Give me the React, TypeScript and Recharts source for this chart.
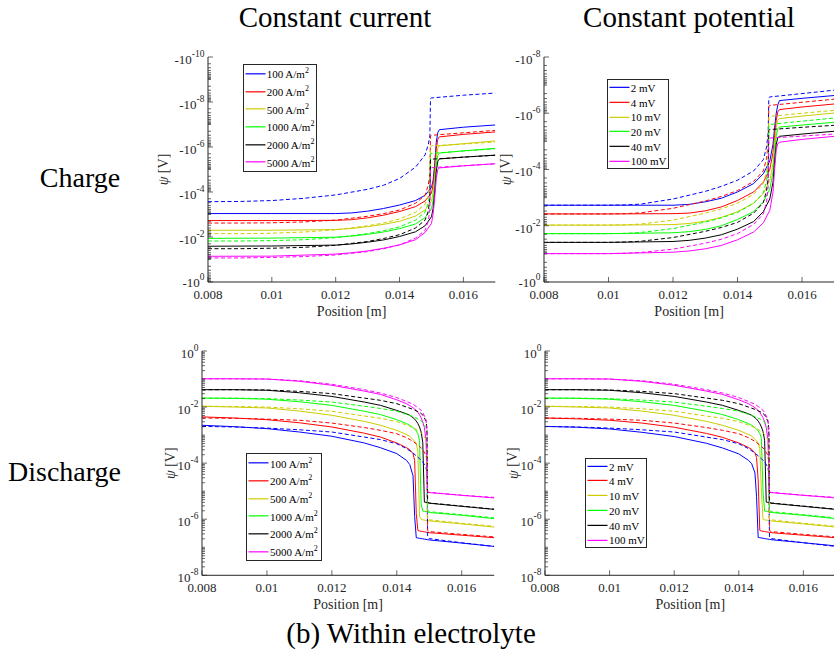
import React from 'react';
import { LineChart, Line, XAxis, YAxis, Legend } from 'recharts';

const FONT = "'Liberation Serif', 'Times New Roman', 'DejaVu Serif', serif";
const AXIS = '#262626';

const seriesColors = ['#0000FF', '#FF0000', '#CCCC00', '#00FF00', '#000000', '#FF00FF'];
const currentLabels = ['100 A/m^2', '200 A/m^2', '500 A/m^2', '1000 A/m^2', '2000 A/m^2', '5000 A/m^2'];
const potentialLabels = ['2 mV', '4 mV', '10 mV', '20 mV', '40 mV', '100 mV'];
const xTicks = [0.008, 0.01, 0.012, 0.014, 0.016];
const xTickLabels = ['0.008', '0.01', '0.012', '0.014', '0.016'];
const chargeCurrentExps = [-10, -8, -6, -4, -2, 0];
const chargePotentialExps = [-8, -6, -4, -2, 0];
const dischargeExps = [-8, -6, -4, -2, 0];

const ccChSolidX = [0.008, 0.010, 0.012, 0.0125, 0.013, 0.0135, 0.014, 0.0145, 0.0148, 0.015, 0.01505, 0.0151, 0.01515, 0.0152, 0.01525, 0.016, 0.017];
const ccCh100 = [9.1e-4, 9.1e-4, 9.1e-4, 8.5e-4, 7.1e-4, 5.4e-4, 3.8e-4, 2.4e-4, 1.41e-4, 6.3e-5, 3.16e-5, 6.3e-6, 6.3e-7, 2.24e-7, 1.7e-7, 1.32e-7, 1.05e-7];
const ccCh200 = [1.86e-3, 1.86e-3, 1.82e-3, 1.7e-3, 1.41e-3, 1.07e-3, 7.4e-4, 4.47e-4, 2.51e-4, 1.12e-4, 5.0e-5, 1.0e-5, 1.26e-6, 4.47e-7, 3.55e-7, 2.75e-7, 2.14e-7];
const ccCh500 = [5.0e-3, 5.0e-3, 4.68e-3, 4.17e-3, 3.47e-3, 2.75e-3, 2.0e-3, 1.17e-3, 6.3e-4, 2.51e-4, 1.12e-4, 2.51e-5, 3.16e-6, 1.12e-6, 8.9e-7, 7.1e-7, 5.37e-7];
const ccCh1000 = [1.15e-2, 1.12e-2, 1.02e-2, 9.1e-3, 7.6e-3, 6.0e-3, 4.27e-3, 2.63e-3, 1.38e-3, 5.6e-4, 2.51e-4, 5.0e-5, 6.3e-6, 2.34e-6, 1.86e-6, 1.48e-6, 1.15e-6];
const ccCh2000 = [2.57e-2, 2.51e-2, 2.29e-2, 2.04e-2, 1.7e-2, 1.35e-2, 9.5e-3, 5.9e-3, 3.16e-3, 1.26e-3, 5.6e-4, 1.12e-4, 1.26e-5, 4.27e-6, 3.39e-6, 2.82e-6, 2.29e-6];
const ccCh5000 = [7.2e-2, 7.1e-2, 5.75e-2, 5.0e-2, 4.17e-2, 3.16e-2, 2.24e-2, 1.32e-2, 6.3e-3, 2.51e-3, 1.0e-3, 2.0e-4, 2.51e-5, 1.0e-5, 8.5e-6, 6.9e-6, 5.5e-6];

const ccChDashX = [0.008, 0.009, 0.010, 0.011, 0.012, 0.013, 0.0135, 0.014, 0.0145, 0.0148, 0.0149, 0.01495, 0.01497, 0.015, 0.016, 0.017];
const ccCh100d = [2.69e-4, 2.63e-4, 2.4e-4, 1.91e-4, 1.35e-4, 7.6e-5, 5.0e-5, 2.51e-5, 7.9e-6, 2.24e-6, 7.9e-7, 3.16e-7, 7.1e-9, 6.6e-9, 5.0e-9, 4.0e-9];
const ccCh200d = [2.4e-3, 2.4e-3, 2.34e-3, 2.14e-3, 1.78e-3, 1.2e-3, 9.1e-4, 6.3e-4, 3.16e-4, 1.41e-4, 5.0e-5, 1.58e-5, 3.16e-7, 3.02e-7, 2.34e-7, 1.82e-7];
const ccCh500d = [7.1e-3, 7.1e-3, 6.8e-3, 6.0e-3, 4.8e-3, 3.16e-3, 2.4e-3, 1.58e-3, 7.9e-4, 3.55e-4, 1.41e-4, 3.98e-5, 1.0e-6, 8.9e-7, 7.4e-7, 6.0e-7];
const ccCh1000d = [1.51e-2, 1.51e-2, 1.45e-2, 1.32e-2, 1.07e-2, 7.1e-3, 5.25e-3, 3.55e-3, 1.78e-3, 7.9e-4, 3.16e-4, 1.0e-4, 2.0e-6, 1.91e-6, 1.51e-6, 1.2e-6];
const ccCh2000d = [3.31e-2, 3.31e-2, 3.16e-2, 2.88e-2, 2.34e-2, 1.58e-2, 1.17e-2, 7.9e-3, 3.98e-3, 1.78e-3, 7.1e-4, 2.0e-4, 3.63e-6, 3.47e-6, 2.82e-6, 2.34e-6];
const ccCh5000d = [8.5e-2, 8.5e-2, 8.1e-2, 7.4e-2, 6.3e-2, 4.47e-2, 3.31e-2, 2.24e-2, 1.12e-2, 5.0e-3, 2.0e-3, 6.3e-4, 8.9e-6, 8.3e-6, 6.8e-6, 5.6e-6];

const cpChSolidX = [0.008, 0.010, 0.012, 0.0125, 0.013, 0.0135, 0.014, 0.0145, 0.0148, 0.015, 0.0151, 0.01515, 0.0152, 0.01525, 0.0153, 0.016, 0.017];
const cpCh2 = [1.86e-3, 1.86e-3, 1.86e-3, 1.74e-3, 1.41e-3, 1.05e-3, 6.3e-4, 3.16e-4, 1.41e-4, 5.0e-5, 1.26e-5, 3.16e-6, 1.0e-6, 5.0e-7, 3.55e-7, 2.95e-7, 2.34e-7];
const cpCh4 = [3.8e-3, 3.8e-3, 3.72e-3, 3.55e-3, 2.95e-3, 2.14e-3, 1.26e-3, 6.3e-4, 2.82e-4, 1.0e-4, 2.51e-5, 6.3e-6, 1.78e-6, 8.9e-7, 7.4e-7, 6.0e-7, 4.68e-7];
const cpCh10 = [9.5e-3, 9.5e-3, 9.1e-3, 8.3e-3, 6.9e-3, 5.0e-3, 3.16e-3, 1.58e-3, 7.1e-4, 2.51e-4, 6.3e-5, 1.26e-5, 3.16e-6, 1.78e-6, 1.55e-6, 1.26e-6, 9.8e-7];
const cpCh20 = [1.91e-2, 1.91e-2, 1.78e-2, 1.62e-2, 1.35e-2, 1.0e-2, 6.0e-3, 3.16e-3, 1.41e-3, 5.0e-4, 1.26e-4, 2.51e-5, 6.3e-6, 3.55e-6, 3.09e-6, 2.63e-6, 2.09e-6];
const cpCh40 = [3.9e-2, 3.9e-2, 3.63e-2, 3.31e-2, 2.75e-2, 2.09e-2, 1.32e-2, 7.1e-3, 3.16e-3, 1.12e-3, 2.82e-4, 5.0e-5, 1.26e-5, 7.4e-6, 6.6e-6, 5.5e-6, 4.37e-6];
const cpCh100 = [9.8e-2, 9.8e-2, 8.7e-2, 7.9e-2, 6.6e-2, 5.0e-2, 3.16e-2, 1.66e-2, 7.9e-3, 2.82e-3, 6.3e-4, 1.0e-4, 2.0e-5, 1.17e-5, 1.07e-5, 8.5e-6, 6.6e-6];

const cpChDashX = [0.008, 0.010, 0.0105, 0.011, 0.012, 0.013, 0.0135, 0.014, 0.0145, 0.0148, 0.0149, 0.01495, 0.01497, 0.015, 0.016, 0.017];
const cpCh2d = [1.86e-3, 1.86e-3, 1.82e-3, 1.7e-3, 1.12e-3, 6.0e-4, 3.98e-4, 2.4e-4, 1.12e-4, 4.47e-5, 1.58e-5, 5.0e-6, 2.82e-7, 2.63e-7, 2.0e-7, 1.51e-7];
const cpCh4d = [3.8e-3, 3.8e-3, 3.72e-3, 3.47e-3, 2.4e-3, 1.32e-3, 9.1e-4, 5.6e-4, 2.63e-4, 1.12e-4, 3.98e-5, 1.26e-5, 5.6e-7, 5.25e-7, 4.07e-7, 3.16e-7];
const cpCh10d = [9.5e-3, 9.5e-3, 9.3e-3, 8.7e-3, 6.3e-3, 3.55e-3, 2.51e-3, 1.58e-3, 7.6e-4, 3.16e-4, 1.12e-4, 3.55e-5, 1.38e-6, 1.29e-6, 1.0e-6, 7.9e-7];
const cpCh20d = [1.91e-2, 1.91e-2, 1.86e-2, 1.74e-2, 1.26e-2, 7.4e-3, 5.25e-3, 3.39e-3, 1.58e-3, 6.8e-4, 2.51e-4, 7.9e-5, 2.69e-6, 2.51e-6, 1.91e-6, 1.48e-6];
const cpCh40d = [3.9e-2, 3.9e-2, 3.8e-2, 3.55e-2, 2.63e-2, 1.58e-2, 1.15e-2, 7.6e-3, 3.55e-3, 1.51e-3, 5.6e-4, 1.78e-4, 4.07e-6, 3.8e-6, 3.16e-6, 2.69e-6];
const cpCh100d = [9.8e-2, 9.8e-2, 9.5e-2, 8.9e-2, 6.8e-2, 4.17e-2, 3.02e-2, 1.91e-2, 8.9e-3, 3.8e-3, 1.41e-3, 3.98e-4, 8.1e-6, 7.6e-6, 6.5e-6, 5.5e-6];

const ccDisSolidX = [0.008, 0.009, 0.010, 0.011, 0.012, 0.013, 0.0135, 0.014, 0.0143, 0.0144, 0.0145, 0.01455, 0.0146, 0.01465, 0.0147, 0.01475, 0.0148, 0.01485, 0.0149, 0.01495, 0.015, 0.016, 0.017];
const ccDis100 = [2.24e-3, 2.0e-3, 1.7e-3, 1.29e-3, 9.1e-4, 5.25e-4, 3.55e-4, 2.19e-4, 1.26e-4, 8.9e-5, 3.55e-5, 1.26e-6, 2.19e-7, 2.14e-7, 2.09e-7, 2.04e-7, 2.0e-7, 1.95e-7, 1.91e-7, 1.86e-7, 1.82e-7, 1.41e-7, 1.07e-7];
const ccDis200 = [4.47e-3, 4.07e-3, 3.55e-3, 2.75e-3, 1.95e-3, 1.17e-3, 8.5e-4, 5.25e-4, 3.55e-4, 3.02e-4, 2.19e-4, 1.26e-4, 1.58e-6, 3.98e-7, 3.8e-7, 3.72e-7, 3.63e-7, 3.55e-7, 3.47e-7, 3.39e-7, 3.31e-7, 2.69e-7, 2.19e-7];
const ccDis500 = [1.07e-2, 1.0e-2, 9.3e-3, 7.2e-3, 5.1e-3, 3.09e-3, 2.24e-3, 1.48e-3, 1.05e-3, 9.1e-4, 6.9e-4, 6.0e-4, 4.9e-4, 2.51e-4, 1.26e-6, 1.0e-6, 9.5e-7, 9.3e-7, 9.1e-7, 8.9e-7, 8.7e-7, 6.8e-7, 5.25e-7];
const ccDis1000 = [2.09e-2, 2.04e-2, 1.91e-2, 1.55e-2, 1.15e-2, 7.1e-3, 5.4e-3, 3.55e-3, 2.57e-3, 2.24e-3, 1.86e-3, 1.66e-3, 1.41e-3, 1.12e-3, 6.5e-4, 3.55e-6, 1.95e-6, 1.91e-6, 1.86e-6, 1.82e-6, 1.74e-6, 1.38e-6, 1.05e-6];
const ccDis2000 = [4.17e-2, 4.17e-2, 3.98e-2, 3.24e-2, 2.4e-2, 1.51e-2, 1.15e-2, 7.6e-3, 5.75e-3, 5.1e-3, 4.17e-3, 3.72e-3, 3.16e-3, 2.57e-3, 1.95e-3, 1.29e-3, 5.6e-4, 4.07e-6, 3.98e-6, 3.89e-6, 3.72e-6, 2.88e-6, 2.24e-6];
const ccDis5000 = [1.02e-1, 1.02e-1, 1.0e-1, 8.3e-2, 6.0e-2, 3.72e-2, 2.82e-2, 1.82e-2, 1.32e-2, 1.12e-2, 9.5e-3, 8.5e-3, 7.6e-3, 6.5e-3, 5.25e-3, 4.17e-3, 2.95e-3, 1.86e-3, 6.5e-4, 9.1e-6, 8.9e-6, 7.1e-6, 5.75e-6];

const ccDisDashX = [0.008, 0.009, 0.010, 0.011, 0.012, 0.013, 0.0135, 0.014, 0.0143, 0.0145, 0.0147, 0.0148, 0.0149, 0.01493, 0.01495, 0.015, 0.016, 0.017];
const ccDis100d = [2.04e-3, 1.95e-3, 1.78e-3, 1.55e-3, 1.29e-3, 8.5e-4, 6.9e-4, 4.9e-4, 3.31e-4, 2.29e-4, 1.45e-4, 1.1e-4, 7.2e-5, 4.17e-5, 2.34e-7, 2.04e-7, 1.45e-7, 1.07e-7];
const ccDis200d = [4.07e-3, 3.98e-3, 3.72e-3, 3.39e-3, 2.69e-3, 1.86e-3, 1.48e-3, 1.12e-3, 8.1e-4, 6.0e-4, 3.98e-4, 3.02e-4, 1.91e-4, 1.1e-4, 3.98e-7, 3.63e-7, 2.88e-7, 2.34e-7];
const ccDis500d = [1.07e-2, 1.05e-2, 1.0e-2, 8.7e-3, 7.1e-3, 4.79e-3, 3.98e-3, 3.02e-3, 2.29e-3, 1.86e-3, 1.35e-3, 1.07e-3, 6.9e-4, 4.27e-4, 1.05e-6, 9.5e-7, 7.2e-7, 5.6e-7];
const ccDis1000d = [2.09e-2, 2.09e-2, 2.0e-2, 1.78e-2, 1.51e-2, 1.07e-2, 8.9e-3, 7.1e-3, 5.5e-3, 4.57e-3, 3.55e-3, 2.88e-3, 1.86e-3, 1.12e-3, 2.09e-6, 1.86e-6, 1.45e-6, 1.12e-6];
const ccDis2000d = [4.17e-2, 4.17e-2, 4.07e-2, 3.63e-2, 3.02e-2, 2.09e-2, 1.74e-2, 1.32e-2, 1.0e-2, 8.3e-3, 6.5e-3, 5.25e-3, 3.16e-3, 1.7e-3, 4.07e-6, 3.8e-6, 2.95e-6, 2.29e-6];
const ccDis5000d = [1.02e-1, 1.02e-1, 1.0e-1, 8.7e-2, 6.5e-2, 4.17e-2, 3.16e-2, 2.19e-2, 1.58e-2, 1.26e-2, 8.7e-3, 6.5e-3, 3.55e-3, 1.48e-3, 9.5e-6, 9.1e-6, 7.2e-6, 6.0e-6];

const cpDisSolidX = [0.008, 0.009, 0.010, 0.011, 0.012, 0.013, 0.0135, 0.014, 0.0143, 0.0144, 0.0145, 0.01455, 0.0146, 0.01465, 0.0147, 0.01475, 0.0148, 0.01485, 0.0149, 0.01495, 0.015, 0.016, 0.017];
const cpDis2 = [2.04e-3, 1.91e-3, 1.66e-3, 1.26e-3, 8.9e-4, 5.1e-4, 3.47e-4, 2.14e-4, 1.26e-4, 9.5e-5, 4.47e-5, 6.3e-6, 2.24e-7, 2.19e-7, 2.14e-7, 2.09e-7, 2.04e-7, 2.0e-7, 1.95e-7, 1.91e-7, 1.86e-7, 1.45e-7, 1.12e-7];
const cpDis4 = [4.07e-3, 3.8e-3, 3.39e-3, 2.69e-3, 1.91e-3, 1.15e-3, 8.3e-4, 5.25e-4, 3.63e-4, 3.09e-4, 2.34e-4, 1.58e-4, 2.51e-5, 3.98e-7, 3.8e-7, 3.72e-7, 3.63e-7, 3.55e-7, 3.47e-7, 3.39e-7, 3.31e-7, 2.69e-7, 2.19e-7];
const cpDis10 = [1.07e-2, 1.0e-2, 9.3e-3, 7.2e-3, 5.1e-3, 3.09e-3, 2.24e-3, 1.48e-3, 1.05e-3, 9.1e-4, 7.1e-4, 6.2e-4, 5.1e-4, 3.3e-4, 1.0e-5, 1.0e-6, 9.5e-7, 9.3e-7, 9.1e-7, 8.9e-7, 8.7e-7, 6.8e-7, 5.25e-7];
const cpDis20 = [2.09e-2, 2.04e-2, 1.91e-2, 1.55e-2, 1.15e-2, 7.1e-3, 5.4e-3, 3.55e-3, 2.57e-3, 2.24e-3, 1.86e-3, 1.66e-3, 1.41e-3, 1.15e-3, 7.6e-4, 1.0e-5, 1.95e-6, 1.91e-6, 1.86e-6, 1.82e-6, 1.74e-6, 1.38e-6, 1.05e-6];
const cpDis40 = [4.17e-2, 4.17e-2, 3.98e-2, 3.24e-2, 2.4e-2, 1.51e-2, 1.15e-2, 7.6e-3, 5.75e-3, 5.1e-3, 4.17e-3, 3.72e-3, 3.16e-3, 2.57e-3, 1.95e-3, 1.35e-3, 6.5e-4, 4.07e-6, 3.98e-6, 3.89e-6, 3.72e-6, 2.88e-6, 2.24e-6];
const cpDis100 = [1.02e-1, 1.02e-1, 1.0e-1, 8.3e-2, 6.0e-2, 3.72e-2, 2.82e-2, 1.82e-2, 1.32e-2, 1.12e-2, 9.5e-3, 8.5e-3, 7.6e-3, 6.5e-3, 5.25e-3, 4.17e-3, 2.95e-3, 1.86e-3, 7.1e-4, 9.1e-6, 8.9e-6, 7.1e-6, 5.75e-6];

const cpDisDashX = [0.008, 0.009, 0.010, 0.011, 0.012, 0.013, 0.0135, 0.014, 0.0143, 0.0145, 0.0147, 0.0148, 0.0149, 0.01493, 0.01495, 0.015, 0.016, 0.017];
const cpDis2d = [2.04e-3, 1.95e-3, 1.78e-3, 1.55e-3, 1.29e-3, 8.5e-4, 6.9e-4, 4.9e-4, 3.31e-4, 2.29e-4, 1.45e-4, 1.1e-4, 7.2e-5, 4.17e-5, 2.34e-7, 2.04e-7, 1.45e-7, 1.07e-7];
const cpDis4d = [4.07e-3, 3.98e-3, 3.72e-3, 3.39e-3, 2.69e-3, 1.86e-3, 1.48e-3, 1.12e-3, 8.1e-4, 6.0e-4, 3.98e-4, 3.02e-4, 1.91e-4, 1.1e-4, 3.98e-7, 3.63e-7, 2.88e-7, 2.34e-7];
const cpDis10d = [1.07e-2, 1.05e-2, 1.0e-2, 8.7e-3, 7.1e-3, 4.79e-3, 3.98e-3, 3.02e-3, 2.29e-3, 1.86e-3, 1.35e-3, 1.07e-3, 6.9e-4, 4.27e-4, 1.05e-6, 9.5e-7, 7.2e-7, 5.6e-7];
const cpDis20d = [2.09e-2, 2.09e-2, 2.0e-2, 1.78e-2, 1.51e-2, 1.07e-2, 8.9e-3, 7.1e-3, 5.5e-3, 4.57e-3, 3.55e-3, 2.88e-3, 1.86e-3, 1.12e-3, 2.09e-6, 1.86e-6, 1.45e-6, 1.12e-6];
const cpDis40d = [4.17e-2, 4.17e-2, 4.07e-2, 3.63e-2, 3.02e-2, 2.09e-2, 1.74e-2, 1.32e-2, 1.0e-2, 8.3e-3, 6.5e-3, 5.25e-3, 3.16e-3, 1.7e-3, 4.07e-6, 3.8e-6, 2.95e-6, 2.29e-6];
const cpDis100d = [1.02e-1, 1.02e-1, 1.0e-1, 8.7e-2, 6.5e-2, 4.17e-2, 3.16e-2, 2.19e-2, 1.58e-2, 1.26e-2, 8.7e-3, 6.5e-3, 3.55e-3, 1.48e-3, 9.5e-6, 9.1e-6, 7.2e-6, 6.0e-6];

const YW = 80;
const MT = 10;
const MR = 10;
const XH = 45;

type Box = { x: number; y: number; w: number; h: number };
type PanelDef = {
  id: string; plotLeft: number; plotTop: number; plotW: number; plotH: number;
  yDomain: [number, number]; majorExps: number[]; negative: boolean;
  solidX: number[]; solid: number[][]; dashedX: number[]; dashed: number[][];
  labels: string[]; legend: Box; yLabelGap: number;
};

const panels: PanelDef[] = [
  {
    id: 'tl', plotLeft: 207.7, plotTop: 57.3, plotW: 287.3, plotH: 225,
    yDomain: [1e-10, 1], majorExps: chargeCurrentExps, negative: true,
    solidX: ccChSolidX, solid: [ccCh100, ccCh200, ccCh500, ccCh1000, ccCh2000, ccCh5000],
    dashedX: ccChDashX, dashed: [ccCh100d, ccCh200d, ccCh500d, ccCh1000d, ccCh2000d, ccCh5000d],
    labels: currentLabels, legend: { x: 242.7, y: 64, w: 74, h: 108 }, yLabelGap: 44.5,
  },
  {
    id: 'tr', plotLeft: 544.3, plotTop: 57.3, plotW: 290.3, plotH: 225,
    yDomain: [1e-8, 1], majorExps: chargePotentialExps, negative: true,
    solidX: cpChSolidX, solid: [cpCh2, cpCh4, cpCh10, cpCh20, cpCh40, cpCh100],
    dashedX: cpChDashX, dashed: [cpCh2d, cpCh4d, cpCh10d, cpCh20d, cpCh40d, cpCh100d],
    labels: potentialLabels, legend: { x: 606.7, y: 79.3, w: 62, h: 90 }, yLabelGap: 38.3,
  },
  {
    id: 'bl', plotLeft: 202.3, plotTop: 350.7, plotW: 292.2, plotH: 224.3,
    yDomain: [1e-8, 1], majorExps: dischargeExps, negative: false,
    solidX: ccDisSolidX, solid: [ccDis100, ccDis200, ccDis500, ccDis1000, ccDis2000, ccDis5000],
    dashedX: ccDisDashX, dashed: [ccDis100d, ccDis200d, ccDis500d, ccDis1000d, ccDis2000d, ccDis5000d],
    labels: currentLabels, legend: { x: 246, y: 453.3, w: 76, h: 108 }, yLabelGap: 31.6,
  },
  {
    id: 'br', plotLeft: 545, plotTop: 350.7, plotW: 290.7, plotH: 224.3,
    yDomain: [1e-8, 1], majorExps: dischargeExps, negative: false,
    solidX: cpDisSolidX, solid: [cpDis2, cpDis4, cpDis10, cpDis20, cpDis40, cpDis100],
    dashedX: cpDisDashX, dashed: [cpDis2d, cpDis4d, cpDis10d, cpDis20d, cpDis40d, cpDis100d],
    labels: potentialLabels, legend: { x: 585, y: 457.7, w: 62, h: 90.6 }, yLabelGap: 32,
  },
];

const toPoints = (xs: number[], ys: number[]) => xs.map((x, i) => ({ x, y: ys[i] }));

const logTicks = (minExp: number, maxExp: number) => {
  const out: number[] = [];
  for (let k = minExp; k < maxExp; k++) {
    for (let m = 1; m <= 9; m++) out.push(Number((m * Math.pow(10, k)).toPrecision(6)));
  }
  out.push(Math.pow(10, maxExp));
  return out;
};

function YTick(props: any) {
  const { x, y, payload, negative, majors } = props;
  const v = Number(payload && payload.value);
  const lg = Math.log10(v);
  const major = (majors as number[]).find((m) => Math.abs(lg - m) < 1e-6);
  const isMajor = major !== undefined;
  // the bottom label of a charge panel sits just above the first x label
  const nudge = negative && major === 0 ? -2 : 0;
  return (
    <g>
      <line x1={x} x2={x + (isMajor ? 5 : 3)} y1={y} y2={y} stroke={AXIS} strokeWidth={0.7} />
      {isMajor && (
        <text x={x - 3.5} y={y + 7 + nudge} textAnchor="end" fontFamily={FONT} fontSize={13} fill="#262626">
          {negative ? '-10' : '10'}
          <tspan dy={-7} fontSize={9.5}>{String(major)}</tspan>
        </text>
      )}
    </g>
  );
}

function XTick(props: any) {
  const { x, y, payload, index } = props;
  const i = xTicks.indexOf(payload && payload.value);
  const label = xTickLabels[i >= 0 ? i : index];
  return (
    <g>
      <line x1={x} x2={x} y1={y} y2={y - 5} stroke={AXIS} strokeWidth={0.7} />
      <text x={x} y={y + 17} textAnchor="middle" fontFamily={FONT} fontSize={13} fill="#262626">
        {label}
      </text>
    </g>
  );
}

function LegendBox(props: any) {
  const { payload, w, h, order } = props;
  const items = (payload || [])
    .filter((it: any) => it.type !== 'none')
    .slice()
    .sort((a: any, b: any) => order.indexOf(a.value) - order.indexOf(b.value));
  const rowH = (h - 2) / Math.max(items.length, 1);
  return (
    <div
      style={{
        width: w, height: h, boxSizing: 'border-box', border: `1px solid ${AXIS}`,
        background: '#fff', fontFamily: FONT, fontSize: 11, color: '#000',
      }}
    >
      {items.map((it: any, i: number) => {
        const [base, sup] = String(it.value).split('^');
        return (
          <div key={i} style={{ height: rowH, display: 'flex', alignItems: 'center', whiteSpace: 'nowrap' }}>
            <svg width={22} height={rowH} style={{ flex: 'none', display: 'block' }}>
              <line x1={1.5} x2={21.5} y1={rowH / 2} y2={rowH / 2} stroke={it.color} strokeWidth={1.2} />
            </svg>
            <span style={{ marginLeft: 1, lineHeight: 1, position: 'relative', top: 1 }}>
              {base}
              {sup && <span style={{ fontSize: 8, position: 'relative', top: -5 }}>{sup}</span>}
            </span>
          </div>
        );
      })}
    </div>
  );
}

function Panel({ p }: { p: PanelDef }) {
  const chartLeft = p.plotLeft - YW;
  const chartTop = p.plotTop - MT;
  const width = YW + p.plotW + MR;
  const height = MT + p.plotH + XH;
  const yTicks = logTicks(p.majorExps[0], p.majorExps[p.majorExps.length - 1]);
  const yLabelX = YW - p.yLabelGap;
  const yLabelY = MT + p.plotH / 2;
  return (
    <div style={{ position: 'absolute', left: chartLeft, top: chartTop }}>
      <LineChart width={width} height={height} margin={{ top: MT, right: MR, left: 0, bottom: 0 }}>
        <XAxis
          type="number" dataKey="x" domain={[0.008, 0.017]} ticks={xTicks} interval={0} allowDataOverflow
          height={XH} tickSize={0} tickMargin={0} tickLine={false}
          axisLine={{ stroke: AXIS, strokeWidth: 1 }}
          tick={(tp: any) => <XTick {...tp} />}
          label={{
            content: () => (
              <text x={YW + p.plotW / 2} y={MT + p.plotH + 34} textAnchor="middle" fontFamily={FONT} fontSize={14} fill="#262626">
                Position [m]
              </text>
            ),
          }}
        />
        <YAxis
          type="number" scale="log" domain={p.yDomain} reversed={p.negative} ticks={yTicks} interval={0} allowDataOverflow
          width={YW} tickSize={0} tickMargin={0} tickLine={false}
          axisLine={{ stroke: AXIS, strokeWidth: 1 }}
          tick={(tp: any) => <YTick {...tp} negative={p.negative} majors={p.majorExps} />}
          label={{
            content: () => (
              <text
                x={yLabelX} y={yLabelY} transform={`rotate(-90 ${yLabelX} ${yLabelY})`}
                textAnchor="middle" dominantBaseline="central" fontFamily={FONT} fontSize={14} fill="#262626"
              >
                <tspan fontStyle="italic">ψ</tspan> [V]
              </text>
            ),
          }}
        />
        {p.solid.map((ys, i) => (
          <Line
            key={`s${i}`} data={toPoints(p.solidX, ys)} dataKey="y" name={p.labels[i]} type="linear"
            stroke={seriesColors[i]} strokeWidth={1} dot={false} activeDot={false} legendType="line" isAnimationActive={false}
          />
        ))}
        {p.dashed.map((ys, i) => (
          <Line
            key={`d${i}`} data={toPoints(p.dashedX, ys)} dataKey="y" name={`${p.labels[i]} (dashed)`} type="linear"
            stroke={seriesColors[i]} strokeWidth={1} strokeDasharray="4 2.5" dot={false} activeDot={false}
            legendType="none" isAnimationActive={false}
          />
        ))}
        <Legend
          layout="vertical" align="center" verticalAlign="middle"
          content={(lp: any) => <LegendBox payload={lp.payload} w={p.legend.w} h={p.legend.h} order={p.labels} />}
          wrapperStyle={{
            left: p.legend.x - chartLeft, top: p.legend.y - chartTop,
            width: p.legend.w, height: p.legend.h, margin: 0, padding: 0,
          }}
        />
      </LineChart>
    </div>
  );
}

export default function App() {
  return (
    <div style={{ position: 'absolute', left: 0, top: 0, width: 834, height: 654, overflow: 'hidden', background: '#fff' }}>
      <svg width={834} height={654} style={{ position: 'absolute', left: 0, top: 0 }}>
        <g fontFamily={FONT} fill="#000">
          <text x={335} y={27} textAnchor="middle" fontSize={29}>Constant current</text>
          <text x={689} y={27} textAnchor="middle" fontSize={29}>Constant potential</text>
          <text x={80} y={187} textAnchor="middle" fontSize={28}>Charge</text>
          <text x={64.5} y={481} textAnchor="middle" fontSize={28}>Discharge</text>
          <text x={411} y={643} textAnchor="middle" fontSize={29}>(b) Within electrolyte</text>
        </g>
      </svg>
      {panels.map((p) => (
        <Panel key={p.id} p={p} />
      ))}
    </div>
  );
}
